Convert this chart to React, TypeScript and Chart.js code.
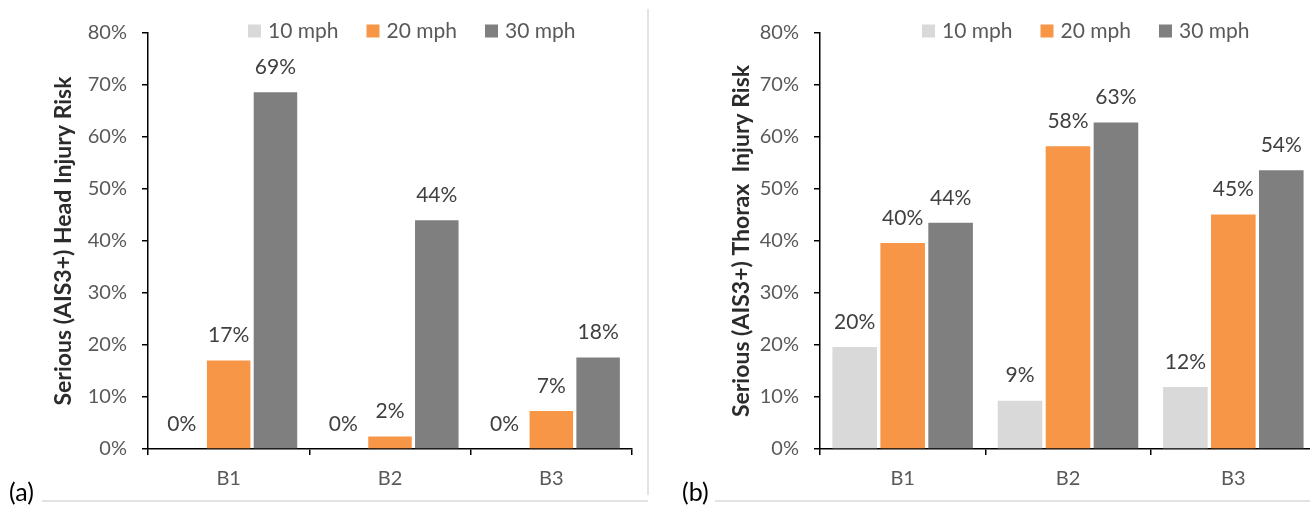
import React, { useEffect, useRef } from "react";
import { Chart, registerables } from "chart.js";

Chart.register(...registerables);

const categories = ["B1", "B2", "B3"];
const seriesNames = ["10 mph", "20 mph", "30 mph"];
const seriesColors = ["#d9d9d9", "#f79646", "#7f7f7f"];

// Panel (a): Head injury risk (%)
const headMph10 = [0, 0, 0];
const headMph20 = [17, 2.4, 7.3];
const headMph30 = [68.6, 44, 17.6];

// Panel (b): Thorax injury risk (%)
const thoraxMph10 = [19.6, 9.3, 11.9];
const thoraxMph20 = [39.6, 58.2, 45.1];
const thoraxMph30 = [43.5, 62.8, 53.6];

const yTicks = [0, 10, 20, 30, 40, 50, 60, 70, 80];

const FONT = "Lato, 'Open Sans', sans-serif";

const dataLabelPlugin = {
  id: "dataLabels",
  afterDatasetsDraw(chart: any) {
    const ctx = chart.ctx;
    ctx.save();
    ctx.font = `21px ${FONT}`;
    ctx.fillStyle = "#404040";
    ctx.textAlign = "center";
    ctx.textBaseline = "middle";
    chart.data.datasets.forEach((ds: any, i: number) => {
      const meta = chart.getDatasetMeta(i);
      meta.data.forEach((el: any, j: number) => {
        const v = ds.data[j];
        ctx.fillText(Math.round(v) + "%", el.x, el.y - 25);
      });
    });
    ctx.restore();
  },
};

const legendPlugin = {
  id: "customLegend",
  afterDraw(chart: any, _args: any, opts: any) {
    const ctx = chart.ctx;
    ctx.save();
    ctx.font = `21px ${FONT}`;
    ctx.textBaseline = "middle";
    ctx.textAlign = "left";
    let x = chart.chartArea.left + (opts.offset || 100);
    const y = 31;
    chart.data.datasets.forEach((ds: any) => {
      ctx.fillStyle = ds.backgroundColor;
      ctx.fillRect(x, y - 6.5, 13, 13);
      x += 13 + 7;
      ctx.fillStyle = "#595959";
      ctx.fillText(ds.label, x, y);
      x += ctx.measureText(ds.label).width + 28;
    });
    ctx.restore();
  },
};

function BarPanel(props: {
  values: number[][];
  title: string;
  axisWidth: number;
  titlePad: number;
  rightPad: number;
  legendOffset: number;
}) {
  const ref = useRef<HTMLCanvasElement | null>(null);
  useEffect(() => {
    if (!ref.current) return;
    const chart = new Chart(ref.current, {
      type: "bar",
      data: {
        labels: categories,
        datasets: props.values.map((vals, i) => ({
          label: seriesNames[i],
          data: vals,
          backgroundColor: seriesColors[i],
          borderWidth: 0,
          categoryPercentage: 0.87,
          barPercentage: 0.93,
        })),
      },
      options: {
        animation: false,
        responsive: false,
        maintainAspectRatio: false,
        layout: { padding: { top: 33, right: props.rightPad, bottom: 0, left: 0 } },
        plugins: {
          legend: { display: false },
          tooltip: { enabled: false },
          customLegend: { offset: props.legendOffset },
        } as any,
        scales: {
          x: {
            grid: {
              drawOnChartArea: false,
              drawTicks: true,
              tickLength: 6,
              color: "#000",
              lineWidth: 1.5,
              offset: true,
            },
            border: { display: true, color: "#000", width: 1.5 },
            ticks: {
              color: "#595959",
              font: { size: 20, family: FONT },
              padding: 12,
            },
            afterFit(scale: any) {
              scale.height = 51;
            },
          },
          y: {
            min: 0,
            max: 80,
            afterBuildTicks(scale: any) {
              scale.ticks = yTicks.map((v) => ({ value: v }));
            },
            grid: {
              drawOnChartArea: false,
              drawTicks: true,
              tickLength: 6,
              color: "#000",
              lineWidth: 1.5,
            },
            border: { display: true, color: "#000", width: 1.5 },
            ticks: {
              color: "#595959",
              font: { size: 20, family: FONT },
              padding: 15,
              callback: (v: any) => v + "%",
            },
            title: {
              display: true,
              text: props.title,
              color: "#2b2b2b",
              font: { size: 23, weight: "bold", family: FONT },
              padding: { top: props.titlePad, bottom: 0 },
            },
            afterFit(scale: any) {
              scale.width = props.axisWidth;
            },
          },
        },
      },
      plugins: [dataLabelPlugin, legendPlugin],
    });
    return () => chart.destroy();
  }, []);
  return <canvas ref={ref} width={props.axisWidth + 500} height={500} />;
}

export default function App() {
  const line = "#e3e3e3";
  return (
    <div
      style={{
        position: "absolute",
        left: 0,
        top: 0,
        width: 1310,
        height: 508,
        background: "#fff",
        overflow: "hidden",
        fontFamily: FONT,
      }}
    >
      <div style={{ position: "absolute", left: 0, top: 0, width: 648, height: 500 }}>
        <BarPanel
          values={[headMph10, headMph20, headMph30]}
          title="Serious (AIS3+) Head Injury Risk"
          axisWidth={148}
          titlePad={50}
          rightPad={16}
          legendOffset={100}
        />
      </div>
      <div style={{ position: "absolute", left: 648, top: 0, width: 662, height: 500 }}>
        <BarPanel
          values={[thoraxMph10, thoraxMph20, thoraxMph30]}
          title="Serious (AIS3+) Thorax  Injury Risk"
          axisWidth={172}
          titlePad={80}
          rightPad={4}
          legendOffset={102}
        />
      </div>
      <div style={{ position: "absolute", left: 42, top: 500, width: 606, height: 2, background: line }} />
      <div style={{ position: "absolute", left: 647, top: 9, width: 2, height: 486, background: line }} />
      <div style={{ position: "absolute", left: 715, top: 500, width: 595, height: 2, background: line }} />
      <span style={{ position: "absolute", left: 9, top: 476, fontSize: 25, lineHeight: "30px", color: "#000" }}>(a)</span>
      <span style={{ position: "absolute", left: 682, top: 476, fontSize: 25, lineHeight: "30px", color: "#000" }}>(b)</span>
    </div>
  );
}
